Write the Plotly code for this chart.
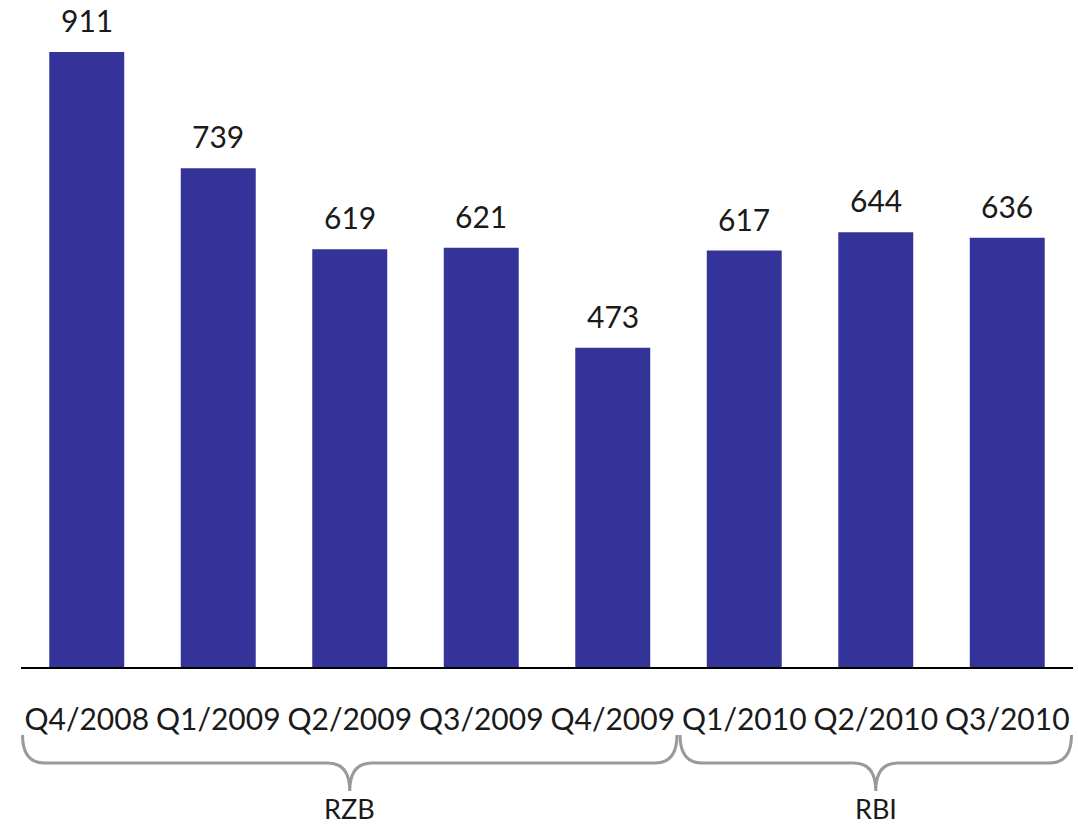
import plotly.graph_objects as go

# Quarterly values
quarters = ["Q4/2008", "Q1/2009", "Q2/2009", "Q3/2009", "Q4/2009",
            "Q1/2010", "Q2/2010", "Q3/2010"]
values = [911, 739, 619, 621, 473, 617, 644, 636]

# Reporting entity per period (consecutive runs get one brace each)
groups = ["RZB", "RZB", "RZB", "RZB", "RZB", "RBI", "RBI", "RBI"]

BAR_COLOR = "#333399"
TEXT_COLOR = "#1a1a1a"
BRACE_COLOR = "#9a9a9a"
FONT = "Lato, 'DejaVu Sans', sans-serif"

W, H = 1078, 824
M_L, M_R, M_T, M_B = 21, 5, 0, 157
plot_w = W - M_L - M_R
plot_h = H - M_T - M_B

x_idx = list(range(len(quarters)))

fig = go.Figure()
fig.add_trace(go.Bar(
    x=x_idx, y=values,
    marker=dict(color=BAR_COLOR, line=dict(width=0)),
    width=0.57,
    hoverinfo="skip",
))

# Value labels above bars
for i, v in zip(x_idx, values):
    fig.add_annotation(x=i, y=v, xref="x", yref="y", text=str(v),
                       showarrow=False, yanchor="bottom", yshift=12,
                       font=dict(family=FONT, size=30, color=TEXT_COLOR))

n = len(quarters)


def px_to_paper_y(py):
    return (H - M_B - py) / plot_h


def idx_to_paper_x(pos):
    return (pos + 0.5) / n


# Braces spanning each run of the same group
runs = []
start = 0
for i in range(1, n + 1):
    if i == n or groups[i] != groups[start]:
        runs.append((groups[start], start, i - 1))
        start = i

y_top = px_to_paper_y(735)
y_mid = px_to_paper_y(763)
y_tip = px_to_paper_y(791)
rx = 22 / plot_w
gap = 1.5 / plot_w

for name, a, b in runs:
    x0 = idx_to_paper_x(a - 0.5) + gap
    x1 = idx_to_paper_x(b + 0.5) - gap
    xc = idx_to_paper_x((a + b) / 2)
    path = (f"M {x0},{y_top} Q {x0},{y_mid} {x0 + rx},{y_mid} "
            f"L {xc - rx},{y_mid} Q {xc},{y_mid} {xc},{y_tip} "
            f"Q {xc},{y_mid} {xc + rx},{y_mid} "
            f"L {x1 - rx},{y_mid} Q {x1},{y_mid} {x1},{y_top}")
    fig.add_shape(type="path", path=path, xref="paper", yref="paper",
                  line=dict(color=BRACE_COLOR, width=3))
    fig.add_annotation(x=(a + b) / 2, xref="x", y=px_to_paper_y(808),
                       yref="paper", text=name, showarrow=False,
                       yanchor="middle",
                       font=dict(family=FONT, size=27, color=TEXT_COLOR))

fig.update_layout(
    width=W, height=H,
    margin=dict(l=M_L, r=M_R, t=M_T, b=M_B),
    paper_bgcolor="white", plot_bgcolor="white",
    showlegend=False,
    bargap=0.43,
    xaxis=dict(
        tickmode="array", tickvals=x_idx, ticktext=quarters,
        range=[-0.5, n - 0.5],
        showline=True, linecolor="black", linewidth=1.5,
        showgrid=False, zeroline=False, ticks="",
        ticklabelstandoff=25,
        tickfont=dict(family=FONT, size=30, color=TEXT_COLOR),
    ),
    yaxis=dict(
        range=[0, plot_h / 0.675],
        visible=False, showgrid=False, zeroline=False,
    ),
)

fig.write_html("out.html")
